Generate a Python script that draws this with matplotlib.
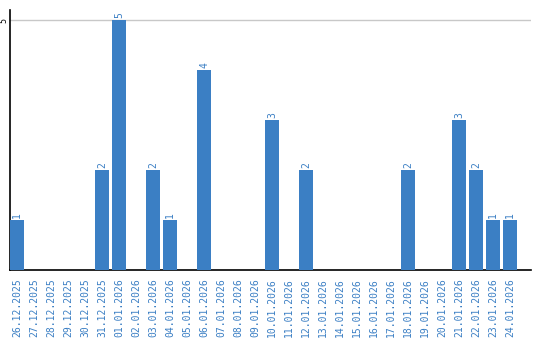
import matplotlib
matplotlib.use("Agg")
import matplotlib.pyplot as plt

dates = ["26.12.2025", "27.12.2025", "28.12.2025", "29.12.2025", "30.12.2025",
         "31.12.2025", "01.01.2026", "02.01.2026", "03.01.2026", "04.01.2026",
         "05.01.2026", "06.01.2026", "07.01.2026", "08.01.2026", "09.01.2026",
         "10.01.2026", "11.01.2026", "12.01.2026", "13.01.2026", "14.01.2026",
         "15.01.2026", "16.01.2026", "17.01.2026", "18.01.2026", "19.01.2026",
         "20.01.2026", "21.01.2026", "22.01.2026", "23.01.2026", "24.01.2026"]
values = [1, 0, 0, 0, 0, 2, 5, 0, 2, 1, 0, 4, 0, 0, 0, 3, 0, 2, 0, 0,
          0, 0, 0, 2, 0, 0, 3, 2, 1, 1]

bar_color = "#3b7fc4"
text_color = "#3b7fc4"

fig = plt.figure(figsize=(5.4, 3.4), dpi=100)
ax = fig.add_axes([10/540, 70/340, 521/540, 260/340])

width = 14/17
x = list(range(len(dates)))
ax.bar(x, values, width=width, align="edge", color=bar_color, zorder=3)

for xi, v in zip(x, values):
    if v > 0:
        ax.text(xi + width/2, v + 0.04, str(v), rotation=90, ha="center", va="bottom",
                color=text_color, fontsize=7, family="DejaVu Sans Mono")

ax.set_xlim(0, 521/17)
ax.set_ylim(0, 5.2)
ax.set_yticks([5])
ax.set_yticklabels(["5"], rotation=90, va="center", ha="right", fontsize=6,
                   family="DejaVu Sans Mono", color="black")
ax.tick_params(axis="y", length=0, pad=1)
ax.axhline(5, color="#c8c8c8", lw=1, zorder=1)

ax.set_xticks([xi + width/2 for xi in x])
ax.set_xticklabels(dates, rotation=90, fontsize=7, color=text_color, family="DejaVu Sans Mono")
ax.tick_params(axis="x", length=0, pad=6)

for s in ["top", "right"]:
    ax.spines[s].set_visible(False)
ax.spines["left"].set_linewidth(1.2)
ax.spines["bottom"].set_linewidth(1.2)

fig.savefig("out.png", dpi=100)
